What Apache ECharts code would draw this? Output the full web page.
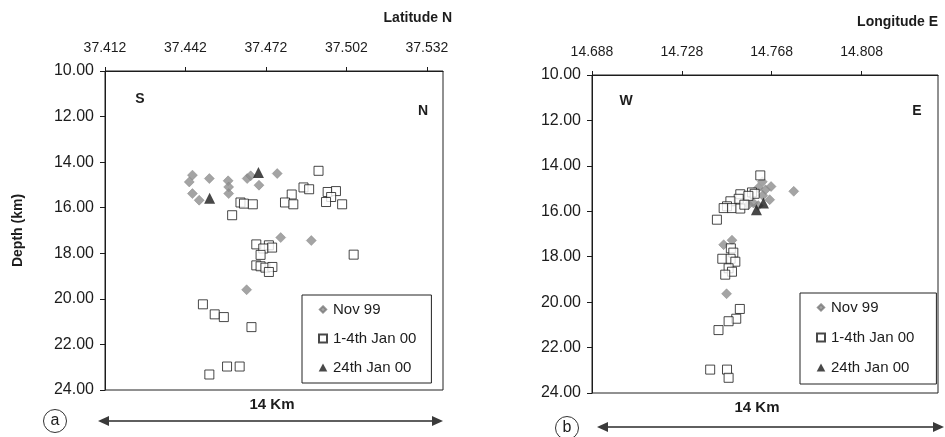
<!DOCTYPE html>
<html>
<head>
<meta charset="utf-8">
<script src="https://cdn.jsdelivr.net/npm/echarts@6/dist/echarts.min.js"></script>
<style>
  html, body { margin: 0; padding: 0; background: #fff; }
  #chart { width: 945px; height: 437px; }
</style>
</head>
<body>
<div id="chart"></div>
<script>
// Tick values of the two horizontal (top) axes and the shared depth range
const latTicks = [37.412, 37.442, 37.472, 37.502, 37.532];
const lonTicks = [14.688, 14.728, 14.768, 14.808];
const latRange = [37.412, 37.538];
const lonRange = [14.688, 14.842];
const depthRange = [10, 24];
const depthStep = 2;

const seriesNames = ['Nov 99', '1-4th Jan 00', '24th Jan 00'];

// (a) section S-N : [latitude N, depth km]
const novA = [
  [37.4446, 14.57], [37.4434, 14.87], [37.4509, 14.72], [37.4579, 14.82],
  [37.4581, 15.09], [37.4581, 15.38], [37.4446, 15.38], [37.4471, 15.67],
  [37.4650, 14.72], [37.4663, 14.60], [37.4694, 15.01], [37.4762, 14.50],
  [37.4775, 17.31], [37.4889, 17.44], [37.4648, 19.60]
];
const janA = [
  [37.4916, 14.38], [37.4860, 15.11], [37.4881, 15.19], [37.4816, 15.42],
  [37.4791, 15.77], [37.4822, 15.85], [37.4625, 15.77], [37.4638, 15.82],
  [37.4671, 15.85], [37.4594, 16.33], [37.4950, 15.31], [37.4981, 15.27],
  [37.4963, 15.53], [37.4944, 15.75], [37.5004, 15.85], [37.4684, 17.61],
  [37.4731, 17.65], [37.4743, 17.75], [37.4710, 17.79], [37.4700, 18.07],
  [37.5047, 18.06], [37.4684, 18.53], [37.4700, 18.57], [37.4718, 18.63],
  [37.4744, 18.60], [37.4731, 18.82], [37.4485, 20.24], [37.4529, 20.68],
  [37.4563, 20.80], [37.4666, 21.24], [37.4575, 22.97], [37.4622, 22.97],
  [37.4509, 23.32]
];
const jan24A = [[37.4692, 14.46], [37.4510, 15.58]];

// (b) section W-E : [longitude E, depth km]
const novB = [
  [14.7638, 14.70], [14.7620, 14.97], [14.7652, 15.05], [14.7640, 15.30],
  [14.7598, 15.63], [14.7620, 15.75], [14.7576, 15.71], [14.7677, 14.91],
  [14.7778, 15.12], [14.7671, 15.49], [14.7466, 17.47], [14.7503, 17.27],
  [14.7479, 19.63]
];
const janB = [
  [14.7629, 14.42], [14.7592, 15.17], [14.7604, 15.23], [14.7540, 15.25],
  [14.7533, 15.45], [14.7496, 15.56], [14.7481, 15.78], [14.7466, 15.86],
  [14.7503, 15.86], [14.7540, 15.88], [14.7576, 15.32], [14.7558, 15.71],
  [14.7436, 16.37], [14.7498, 17.63], [14.7509, 17.82], [14.7460, 18.09],
  [14.7497, 18.09], [14.7518, 18.22], [14.7488, 18.51], [14.7503, 18.66],
  [14.7473, 18.79], [14.7538, 20.30], [14.7522, 20.73], [14.7488, 20.84],
  [14.7443, 21.23], [14.7406, 22.97], [14.7481, 22.97], [14.7488, 23.33]
];
const jan24B = [[14.7612, 15.93], [14.7643, 15.63]];

const FONT = '"Liberation Sans", Arial, Helvetica, sans-serif';
const INK = '#1c1c1c';

const styles = [
  { symbol: 'diamond', symbolSize: 10, itemStyle: { color: '#8d8d8d', borderColor: '#7a7a7a', borderWidth: 0.5 } },
  { symbol: 'rect', symbolSize: 9, itemStyle: { color: '#ffffff', borderColor: '#1a1a1a', borderWidth: 1 } },
  { symbol: 'triangle', symbolSize: 11, itemStyle: { color: '#1a1a1a' } }
];

// legend keys: a smaller diamond kept inside the same 10x10 key box
const legendIcons = [
  'path://M0,0M10,10M5,1.8L8.2,5L5,8.2L1.8,5Z',
  'path://M0,0M10,10M1,1L9,1L9,9L1,9Z',
  'path://M0,0M10,10M5,1L9.3,9L0.7,9Z'
];

function makeSeries(data, idx, axisIdx) {
  return Object.assign({
    type: 'scatter',
    name: seriesNames[idx],
    xAxisIndex: axisIdx,
    yAxisIndex: axisIdx,
    data: data,
    z: 2 + idx,
    emphasis: { disabled: true }
  }, styles[idx]);
}

function xAxisFor(gridIndex, range, ticks) {
  return {
    type: 'value',
    gridIndex: gridIndex,
    position: 'top',
    min: range[0],
    max: range[1],
    axisLine: { show: true, onZero: false, lineStyle: { color: INK, width: 1 } },
    axisTick: { show: true, inside: false, length: 4, customValues: ticks, lineStyle: { color: INK } },
    axisLabel: {
      customValues: ticks, margin: 16, fontSize: 14, color: INK, fontFamily: FONT,
      formatter: v => v.toFixed(3)
    },
    splitLine: { show: false }
  };
}

function yAxisFor(gridIndex, withName) {
  const ax = {
    type: 'value',
    gridIndex: gridIndex,
    inverse: true,
    min: depthRange[0],
    max: depthRange[1],
    interval: depthStep,
    axisLine: { show: true, onZero: false, lineStyle: { color: INK, width: 1 } },
    axisTick: { show: true, inside: false, length: 5, lineStyle: { color: INK } },
    axisLabel: {
      margin: 11, fontSize: 16, color: INK, fontFamily: FONT,
      formatter: v => v.toFixed(2)
    },
    splitLine: { show: false }
  };
  if (withName) {
    Object.assign(ax, {
      name: 'Depth (km)',
      nameLocation: 'middle',
      nameGap: 80,
      nameRotate: 90,
      nameTextStyle: { fontSize: 14, fontWeight: 'bold', color: INK, fontFamily: FONT }
    });
  }
  return ax;
}

function legendAt(left, top, padding, gap) {
  return {
    orient: 'vertical',
    left: left,
    top: top,
    data: seriesNames.map((n, i) => ({ name: n, icon: legendIcons[i] })),
    selectedMode: false,
    backgroundColor: '#fff',
    borderColor: '#222',
    borderWidth: 1,
    padding: padding,
    itemGap: gap,
    itemWidth: 10,
    itemHeight: 10,
    textStyle: { fontSize: 15, color: INK, fontFamily: FONT, lineHeight: 14 }
  };
}

function label(text, x, y, opts) {
  return {
    type: 'text', x: x, y: y, silent: true,
    style: Object.assign({
      text: text, fill: INK, font: 'bold 14px ' + FONT,
      textAlign: 'center', textVerticalAlign: 'middle'
    }, opts || {})
  };
}

function arrow(x1, x2, y) {
  const h = 11, w = 5;
  return [
    { type: 'line', silent: true, shape: { x1: x1 + 4, y1: y, x2: x2 - 4, y2: y },
      style: { stroke: '#2a2a2a', lineWidth: 1.6 } },
    { type: 'polygon', silent: true, shape: { points: [[x1, y], [x1 + h, y - w], [x1 + h, y + w]] },
      style: { fill: '#3a3a3a' } },
    { type: 'polygon', silent: true, shape: { points: [[x2, y], [x2 - h, y - w], [x2 - h, y + w]] },
      style: { fill: '#3a3a3a' } }
  ];
}

function circled(letter, cx, cy) {
  return [
    { type: 'circle', silent: true, shape: { cx: cx, cy: cy, r: 11.5 },
      style: { fill: 'none', stroke: '#333', lineWidth: 1 } },
    label(letter, cx, cy, { font: '16px ' + FONT })
  ];
}

const option = {
  animation: false,
  backgroundColor: '#ffffff',
  textStyle: { fontFamily: FONT },
  grid: [
    { left: 105, top: 71, width: 338, height: 319, show: true, borderColor: '#222', borderWidth: 1, backgroundColor: 'transparent' },
    { left: 592, top: 75, width: 346, height: 318, show: true, borderColor: '#222', borderWidth: 1, backgroundColor: 'transparent' }
  ],
  xAxis: [xAxisFor(0, latRange, latTicks), xAxisFor(1, lonRange, lonTicks)],
  yAxis: [yAxisFor(0, true), yAxisFor(1, false)],
  legend: [
    legendAt(302, 295, [7, 15, 8, 15], 14),
    legendAt(800, 293, [7, 22, 9, 15], 15)
  ],
  series: [
    makeSeries(novA, 0, 0), makeSeries(janA, 1, 0), makeSeries(jan24A, 2, 0),
    makeSeries(novB, 0, 1), makeSeries(janB, 1, 1), makeSeries(jan24B, 2, 1)
  ],
  graphic: [].concat(
    [
      label('Latitude N', 452, 18, { textAlign: 'right' }),
      label('Longitude E', 938, 22, { textAlign: 'right' }),
      label('S', 140, 99),
      label('N', 423, 111),
      label('W', 626, 101),
      label('E', 917, 111),
      label('14 Km', 272, 405, { font: 'bold 15px ' + FONT }),
      label('14 Km', 757, 408, { font: 'bold 15px ' + FONT })
    ],
    arrow(98, 443, 421),
    arrow(597, 944, 427),
    circled('a', 55, 421),
    circled('b', 567, 428)
  )
};

const chart = echarts.init(document.getElementById('chart'), null, { renderer: 'canvas' });
chart.setOption(option);
</script>
</body>
</html>
